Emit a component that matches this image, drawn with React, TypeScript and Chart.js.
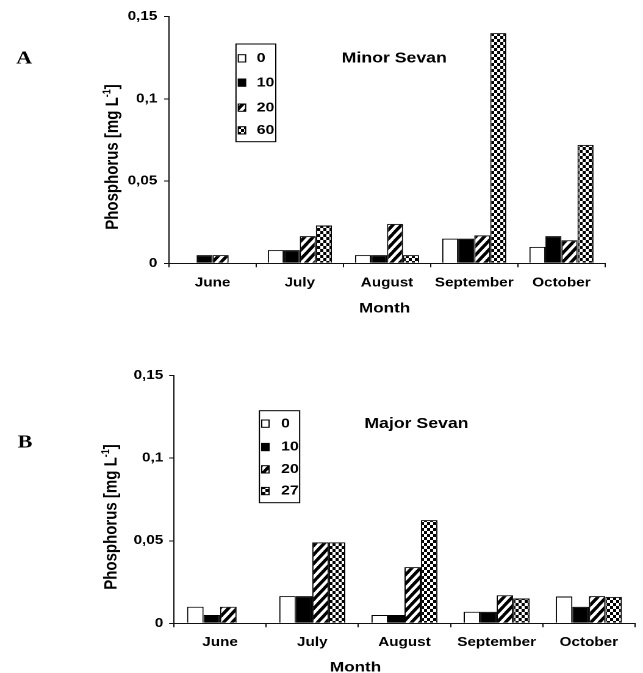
import React, { useEffect, useRef } from "react";
import { Chart, registerables } from "chart.js";

Chart.register(...registerables);

// ---------- data ----------
const months = ["June", "July", "August", "September", "October"];
const yTickLabels = ["0", "0,05", "0,1", "0,15"];

const minorLabels = ["0", "10", "20", "60"];
const minor0 = [0, 0.008, 0.005, 0.015, 0.01];
const minor10 = [0.005, 0.008, 0.005, 0.015, 0.0165];
const minor20 = [0.005, 0.0165, 0.024, 0.017, 0.014];
const minor60 = [0, 0.023, 0.005, 0.14, 0.072];

const majorLabels = ["0", "10", "20", "27"];
const major0 = [0.01, 0.0165, 0.005, 0.007, 0.0162];
const major10 = [0.005, 0.0165, 0.005, 0.007, 0.01];
const major20 = [0.01, 0.049, 0.034, 0.017, 0.0165];
const major27 = [0, 0.049, 0.0625, 0.015, 0.016];

const titleMinor = "Minor Sevan";
const titleMajor = "Major Sevan";
const panelMinor = "A";
const panelMajor = "B";
const xTitleText = "Month";
const yTitleMain = "Phosphorus [mg L";
const yTitleSup = "-1";
const yTitleEnd = "]";

// ---------- drawing helpers ----------
const LOGICAL_W = 527;
const SANS = '"Liberation Sans", Arial, sans-serif';
const SERIF = '"Liberation Serif", "Times New Roman", serif';

function makeTile(w: number, h: number, draw: (g: CanvasRenderingContext2D) => void) {
  const c = document.createElement("canvas");
  c.width = w;
  c.height = h;
  const g = c.getContext("2d")!;
  draw(g);
  return c;
}

function stripePattern(ctx: CanvasRenderingContext2D) {
  const W = 7, H = 9, R = 2;
  const tile = makeTile(W * R, H * R, (g) => {
    g.fillStyle = "#ffffff";
    g.fillRect(0, 0, W * R, H * R);
    g.scale(R, R);
    g.strokeStyle = "#000000";
    g.lineWidth = 2.7;
    for (const k of [0, 1, 2]) {
      g.beginPath();
      g.moveTo(k * W + W, -H);
      g.lineTo(k * W - W, H);
      g.stroke();
      g.beginPath();
      g.moveTo(k * W, 0);
      g.lineTo(k * W - 2 * W, 2 * H);
      g.stroke();
    }
  });
  const p = ctx.createPattern(tile, "repeat")!;
  p.setTransform(new DOMMatrix([1 / R, 0, 0, 1 / R, 0, 0]));
  return p;
}

function checkerPattern(ctx: CanvasRenderingContext2D) {
  const cw = 5, ch = 6, R = 2;
  const tile = makeTile(cw * 2, ch * 2, (g) => {
    g.fillStyle = "#ffffff";
    g.fillRect(0, 0, cw * 2, ch * 2);
    g.fillStyle = "#000000";
    g.fillRect(0, 0, cw, ch);
    g.fillRect(cw, ch, cw, ch);
  });
  const p = ctx.createPattern(tile, "repeat")!;
  p.setTransform(new DOMMatrix([1 / R, 0, 0, 1 / R, 0, 0]));
  return p;
}

type Spec = {
  labels: string[];
  series: number[][];
  canvasH: number;
  left: number;
  right: number;
  top: number;
  bottom: number;
  catPct: number;
  xPad: number;
  yPad: number;
  panel: { text: string; x: number; y: number };
  title: { text: string; x: number; y: number };
  xTitle: { x: number; y: number };
  yTitle: { x: number; y: number };
  legend: { x: number; y: number; w: number; h: number; swX: number; txtX: number; rows: number[] };
};

function decorPlugin(spec: Spec) {
  return {
    id: "decor",
    afterDraw(chart: any) {
      const ctx: CanvasRenderingContext2D = chart.ctx;
      ctx.save();
      ctx.fillStyle = "#000";
      ctx.textBaseline = "alphabetic";
      ctx.textAlign = "center";

      ctx.font = `bold 18px ${SERIF}`;
      ctx.fillText(spec.panel.text, spec.panel.x, spec.panel.y);

      ctx.font = `bold 14.5px ${SANS}`;
      ctx.fillText(spec.title.text, spec.title.x, spec.title.y);

      ctx.font = `bold 14px ${SANS}`;
      ctx.fillText(xTitleText, spec.xTitle.x, spec.xTitle.y);

      // rotated y title with superscript
      ctx.save();
      ctx.translate(spec.yTitle.x, spec.yTitle.y);
      ctx.rotate(-Math.PI / 2);
      ctx.textAlign = "left";
      const mainFont = `bold 15px ${SANS}`;
      const supFont = `bold 9px ${SANS}`;
      ctx.font = mainFont;
      const wMain = ctx.measureText(yTitleMain).width;
      const wEnd = ctx.measureText(yTitleEnd).width;
      ctx.font = supFont;
      const wSup = ctx.measureText(yTitleSup).width;
      const total = wMain + wSup + wEnd;
      let x0 = -total / 2;
      const base = 3.9;
      ctx.font = mainFont;
      ctx.fillText(yTitleMain, x0, base);
      x0 += wMain;
      ctx.font = supFont;
      ctx.fillText(yTitleSup, x0, base - 6);
      x0 += wSup;
      ctx.font = mainFont;
      ctx.fillText(yTitleEnd, x0, base);
      ctx.restore();

      // legend
      const lg = spec.legend;
      ctx.lineWidth = 1;
      ctx.strokeStyle = "#000";
      ctx.strokeRect(lg.x, lg.y, lg.w, lg.h);
      chart.data.datasets.forEach((ds: any, i: number) => {
        const by = lg.rows[i];
        ctx.fillStyle = ds.backgroundColor;
        ctx.fillRect(lg.swX, by - 7.3, 6, 7.3);
        ctx.strokeStyle = "#000";
        ctx.strokeRect(lg.swX, by - 7.3, 6, 7.3);
        ctx.fillStyle = "#000";
        ctx.font = `bold 13px ${SANS}`;
        ctx.textAlign = "left";
        ctx.fillText(ds.label, lg.txtX, by);
      });
      ctx.restore();
    },
  };
}

function build(canvas: HTMLCanvasElement, spec: Spec) {
  const ctx = canvas.getContext("2d")!;
  const fills: any[] = ["#ffffff", "#000000", stripePattern(ctx), checkerPattern(ctx)];
  const tickFont = { family: SANS, size: 12.5, weight: "bold" as const };
  return new Chart(canvas, {
    type: "bar",
    data: {
      labels: months,
      datasets: spec.series.map((vals, i) => ({
        label: spec.labels[i],
        data: vals,
        backgroundColor: fills[i],
        borderColor: "#000000",
        borderWidth: 1,
        borderSkipped: "start",
        categoryPercentage: spec.catPct,
        barPercentage: 1,
      })),
    },
    options: {
      responsive: false,
      animation: false,
      devicePixelRatio: 2,
      events: [],
      layout: { padding: { left: 0, top: spec.top, right: LOGICAL_W - spec.right, bottom: 0 } },
      plugins: {
        legend: { display: false },
        tooltip: { enabled: false },
        title: { display: false },
      },
      scales: {
        x: {
          type: "category",
          offset: true,
          grid: {
            display: true,
            offset: true,
            drawOnChartArea: false,
            drawTicks: true,
            tickLength: 4,
            color: "#111",
            lineWidth: 1,
          },
          border: { display: true, color: "#111", width: 1 },
          ticks: { color: "#000", font: tickFont, padding: spec.xPad, maxRotation: 0, autoSkip: false },
          afterFit: (s: any) => {
            s.height = spec.canvasH - spec.bottom;
          },
        },
        y: {
          type: "linear",
          min: 0,
          max: 0.15,
          grid: {
            display: true,
            drawOnChartArea: false,
            drawTicks: true,
            tickLength: 4,
            color: "#111",
            lineWidth: 1,
          },
          border: { display: true, color: "#111", width: 1 },
          ticks: {
            stepSize: 0.05,
            color: "#000",
            font: tickFont,
            padding: spec.yPad,
            callback: (_v: any, i: number) => yTickLabels[i] ?? "",
          },
          afterFit: (s: any) => {
            s.width = spec.left;
          },
        },
      },
    } as any,
    plugins: [decorPlugin(spec)],
  });
}

const specMinor: Spec = {
  labels: minorLabels,
  series: [minor0, minor10, minor20, minor60],
  canvasH: 336,
  left: 138.5,
  right: 495.9,
  top: 16.7,
  bottom: 263.3,
  catPct: 0.735,
  xPad: 8,
  yPad: 5.6,
  panel: { text: panelMinor, x: 19.8, y: 63.3 },
  title: { text: titleMinor, x: 323.1, y: 62.3 },
  xTitle: { x: 315.2, y: 312.5 },
  yTitle: { x: 92.6, y: 157 },
  legend: { x: 193.4, y: 44, w: 32.6, h: 97.7, swX: 195.3, txtX: 210.4, rows: [62, 86.3, 111.3, 134] },
};

const specMajor: Spec = {
  labels: majorLabels,
  series: [major0, major10, major20, major27],
  canvasH: 337,
  left: 142.6,
  right: 520.4,
  top: 39.7,
  bottom: 287.3,
  catPct: 0.716,
  xPad: 7.5,
  yPad: 4.8,
  panel: { text: panelMajor, x: 20.5, y: 111.3 },
  title: { text: titleMajor, x: 341.3, y: 92 },
  xTitle: { x: 291.4, y: 335.5 },
  yTitle: { x: 91.8, y: 181 },
  legend: { x: 212.6, y: 74.7, w: 33, h: 92, swX: 214.5, txtX: 230.4, rows: [91.3, 114.7, 137, 158.7] },
};

export default function App() {
  const refA = useRef<HTMLCanvasElement>(null);
  const refB = useRef<HTMLCanvasElement>(null);
  useEffect(() => {
    const charts = [build(refA.current!, specMinor), build(refB.current!, specMajor)];
    return () => charts.forEach((c) => c.destroy());
  }, []);
  return (
    <div style={{ position: "absolute", left: 0, top: 0, width: 643, height: 673, background: "#fff" }}>
      <canvas ref={refA} width={LOGICAL_W} height={336} style={{ display: "block", width: "643px", height: "336px" }} />
      <canvas ref={refB} width={LOGICAL_W} height={337} style={{ display: "block", width: "643px", height: "337px" }} />
    </div>
  );
}
